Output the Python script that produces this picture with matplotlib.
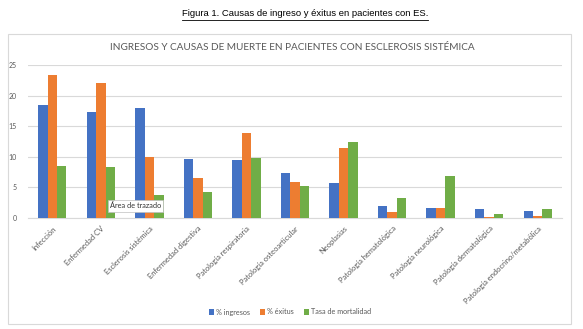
import matplotlib
matplotlib.use("Agg")
import matplotlib.pyplot as plt
from matplotlib.patches import Rectangle
from matplotlib.lines import Line2D
import numpy as np

categories = ["Infección", "Enfermedad CV", "Esclerosis sistémica", "Enfermedad digestiva",
              "Patología respiratoria", "Patología osteoarticular", "Neoplasias",
              "Patología hematológica", "Patología neurológica", "Patología dermatológica",
              "Patología endocrino/metabólica"]
ingresos = [18.4, 17.4, 17.9, 9.6, 9.4, 7.4, 5.7, 2.0, 1.7, 1.4, 1.2]
exitus = [23.4, 22.0, 10.0, 6.5, 13.9, 5.9, 11.4, 0.9, 1.7, 0.1, 0.3]
mortalidad = [8.5, 8.4, 3.7, 4.2, 9.8, 5.3, 12.5, 3.2, 6.9, 0.7, 1.5]
series_names = ["% ingresos", "% éxitus", "Tasa de mortalidad"]
colors = ["#4472C4", "#ED7D31", "#70AD47"]
yticks = [0, 5, 10, 15, 20, 25]

W, H = 583, 329
fig = plt.figure(figsize=(W / 100, H / 100), dpi=100)
fig.patch.set_facecolor("white")

# chart box
fig.patches.append(Rectangle((8 / W, 1 - 324 / H), 563 / W, 290 / H, transform=fig.transFigure,
                             fill=False, edgecolor="#d9d9d9", linewidth=0.8))

# figure caption with underline
cap = fig.text(305 / W, 1 - 14 / H, "Figura 1. Causas de ingreso y éxitus en pacientes con ES.",
               ha="center", va="center", fontsize=6.8, family="Liberation Sans", color="#000000")
fig.canvas.draw()
bb = cap.get_window_extent(renderer=fig.canvas.get_renderer())
fig.add_artist(Line2D([bb.x0 / W, bb.x1 / W], [1 - 20 / H, 1 - 20 / H], transform=fig.transFigure,
                      color="#000000", linewidth=0.6))

fig.text(292 / W, 1 - 47 / H, "INGRESOS Y CAUSAS DE MUERTE EN PACIENTES CON ESCLEROSIS SISTÉMICA",
         ha="center", va="center", fontsize=7.2, family="Lato", color="#595959")

ax = fig.add_axes([28 / W, (H - 218) / H, 534 / W, 153 / H])
x = np.arange(len(categories))
bw = 0.195
for i, (vals, c, name) in enumerate(zip([ingresos, exitus, mortalidad], colors, series_names)):
    ax.bar(x + (i - 1) * bw, vals, width=bw, color=c, label=name, zorder=3)

ax.set_xlim(-0.5, len(categories) - 0.5)
ax.set_ylim(0, 25)
ax.set_yticks(yticks)
ax.yaxis.grid(True, color="#d9d9d9", linewidth=0.8, zorder=0)
for s in ["top", "right", "left"]:
    ax.spines[s].set_visible(False)
ax.spines["bottom"].set_color("#d9d9d9")
ax.spines["bottom"].set_linewidth(0.8)
ax.tick_params(axis="y", length=0, labelsize=5, labelcolor="#595959", pad=8)
ax.tick_params(axis="x", length=0, labelsize=5.4, labelcolor="#595959", pad=5)
ax.set_xticks(x)
ax.set_xticklabels(categories, rotation=45, ha="right", rotation_mode="anchor", family="Lato")
for lab in ax.get_yticklabels():
    lab.set_family("Lato")

leg = fig.legend(loc="center", bbox_to_anchor=(290 / W, 1 - 312 / H), ncol=3, frameon=False,
                 handlelength=0.7, handleheight=0.7, columnspacing=1.4,
                 handletextpad=0.3, prop={"family": "Lato", "size": 5.2})
for txt in leg.get_texts():
    txt.set_color("#595959")

# tooltip
fig.text(110 / W, 1 - 206 / H, "Área de trazado", ha="left", va="center", fontsize=5.3,
         family="Lato", color="#333333",
         bbox=dict(boxstyle="square,pad=0.3", facecolor="white", edgecolor="#bfbfbf", linewidth=0.5))

fig.savefig("out.png", dpi=100)
